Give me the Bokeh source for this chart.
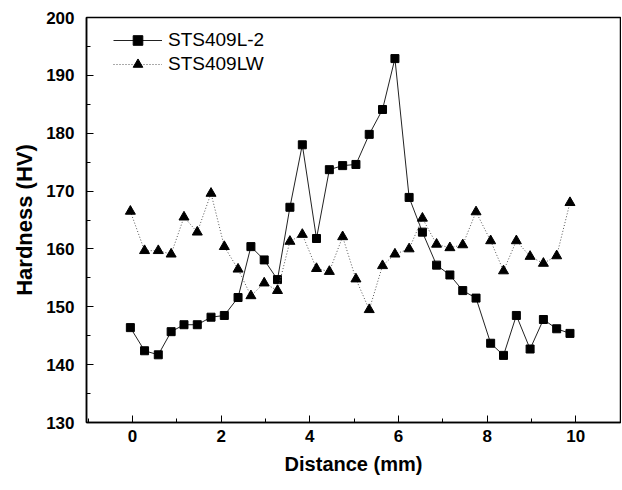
from bokeh.plotting import figure
from bokeh.models import Legend, LegendItem, SingleIntervalTicker, Range1d
from bokeh.embed import file_html
from bokeh.resources import INLINE

# Data
distance = [-0.05, 0.27, 0.58, 0.87, 1.16, 1.46, 1.77, 2.07, 2.38, 2.67, 2.97, 3.27,
            3.55, 3.83, 4.15, 4.44, 4.74, 5.04, 5.34, 5.64, 5.92, 6.24, 6.54, 6.86,
            7.16, 7.45, 7.75, 8.08, 8.37, 8.66, 8.97, 9.27, 9.57, 9.87]
hardness_l2 = [146.4, 142.4, 141.7, 145.7, 146.9, 146.9, 148.2, 148.5, 151.6, 160.4,
               158.1, 154.7, 167.2, 178.0, 161.8, 173.7, 174.4, 174.6, 179.8, 184.1,
               192.9, 168.9, 162.9, 157.2, 155.5, 152.8, 151.5, 143.7, 141.6, 148.5,
               142.7, 147.8, 146.2, 145.4]
hardness_lw = [166.5, 159.7, 159.7, 159.1, 165.5, 162.9, 169.6, 160.4, 156.5, 151.9,
               154.1, 152.8, 161.3, 162.5, 156.6, 156.1, 162.1, 154.8, 149.5, 157.1,
               159.1, 160.0, 165.3, 160.8, 160.2, 160.7, 166.4, 161.4, 156.2, 161.4,
               158.7, 157.5, 158.8, 168.0]
series_names = ["STS409L-2", "STS409LW"]
x_label = "Distance (mm)"
y_label = "Hardness (HV)"

FONT = "Liberation Sans"

p = figure(width=621, height=488, output_backend="svg", toolbar_location=None,
           x_range=Range1d(-1.04, 11.01), y_range=Range1d(130, 200),
           min_border_left=86, min_border_right=1, min_border_top=17,
           min_border_bottom=66, background_fill_color="white",
           border_fill_color="white")

p.xgrid.visible = False
p.ygrid.visible = False
p.outline_line_color = "black"
p.outline_line_width = 1.5

r1_line = p.line(distance, hardness_l2, line_color="#222222", line_width=1)
r1_pts = p.scatter(distance, hardness_l2, marker="square", size=8,
                   fill_color="black", line_color="black")
r2_line = p.line(distance, hardness_lw, line_color="#555555", line_width=1,
                 line_dash="1 2")
r2_pts = p.scatter(distance, hardness_lw, marker="triangle", size=10,
                   fill_color="black", line_color="black")

# Axes
p.xaxis.ticker = SingleIntervalTicker(interval=2, num_minor_ticks=2)
p.yaxis.ticker = SingleIntervalTicker(interval=10, num_minor_ticks=2)
for ax in (p.xaxis[0], p.yaxis[0]):
    ax.axis_line_color = "black"
    ax.axis_line_width = 1.5
    ax.major_tick_in = 7
    ax.major_tick_out = 0
    ax.minor_tick_in = 4
    ax.minor_tick_out = 0
    ax.major_tick_line_color = "black"
    ax.minor_tick_line_color = "black"
    ax.major_label_text_font = FONT
    ax.major_label_text_font_style = "bold"
    ax.major_label_text_font_size = "17px"
    ax.major_label_text_color = "black"
    ax.axis_label_text_font = FONT
    ax.axis_label_text_font_style = "bold"
    ax.axis_label_text_color = "black"

p.xaxis.axis_label = x_label
p.yaxis.axis_label = y_label
p.xaxis.axis_label_text_font_size = "20px"
p.yaxis.axis_label_text_font_size = "22px"
p.xaxis.major_label_standoff = 7
p.yaxis.major_label_standoff = 12
p.xaxis.axis_label_standoff = 8
p.yaxis.axis_label_standoff = 6

legend = Legend(items=[
    LegendItem(label=series_names[0], renderers=[r1_line, r1_pts]),
    LegendItem(label=series_names[1], renderers=[r2_line, r2_pts]),
], location=(27, 346))
legend.border_line_alpha = 0
legend.background_fill_alpha = 0
legend.padding = 0
legend.margin = 0
legend.spacing = 0
legend.glyph_width = 49
legend.glyph_height = 24
legend.label_height = 24
legend.label_standoff = 6
legend.label_text_font = FONT
legend.label_text_font_size = "19px"
legend.label_text_color = "black"
p.add_layout(legend)

open("out.html", "w").write(file_html(p, INLINE))
